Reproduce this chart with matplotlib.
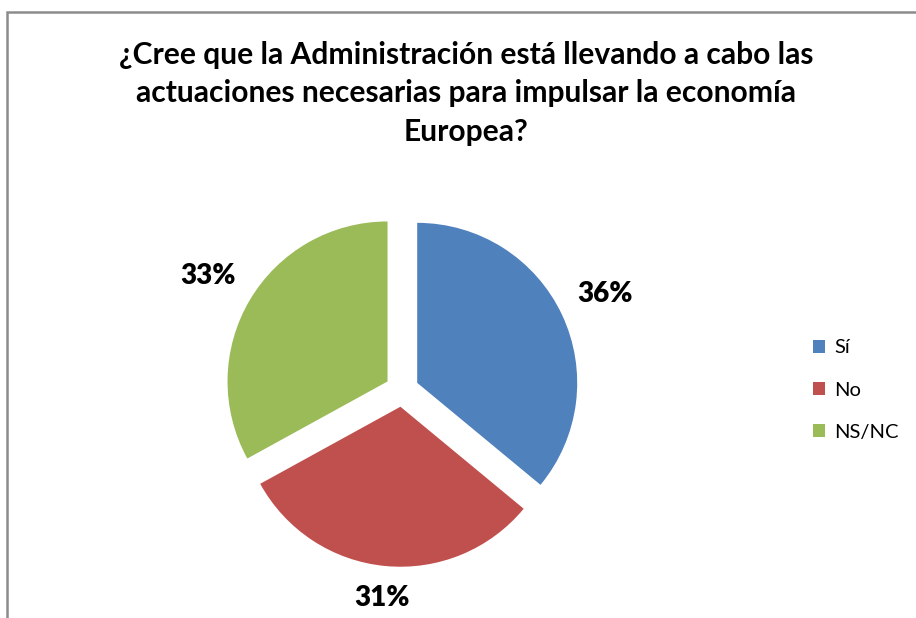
import numpy as np
import matplotlib.pyplot as plt
from matplotlib.patches import Rectangle

labels = ['Sí', 'No', 'NS/NC']
values = [36, 31, 33]
colors = ['#4F81BD', '#C0504D', '#9BBB59']
label_dist = [1.3, 1.2, 1.3]
title = ('¿Cree que la Administración está llevando a cabo las\n'
         'actuaciones necesarias para impulsar la economía\n'
         'Europea?')

plt.rcParams['font.family'] = ['Lato', 'DejaVu Sans']

W, H = 916, 618
fig = plt.figure(figsize=(W / 100, H / 100), dpi=100)

# chart frame (runs off the right and bottom edges)
fig.patches.append(Rectangle((7 / W, -0.05), 1.0, 1 - 12 / H + 0.05,
                             transform=fig.transFigure, fill=False,
                             edgecolor='#8c8c8c', linewidth=1.8))

# pie axes: 160 px per data unit, centre at (402, 390) px
cx, cy, r = 402, 390, 160
a = 1.5
explode = 0.105
ax = fig.add_axes([(cx - a * r) / W, (H - cy - a * r) / H, 2 * a * r / W, 2 * a * r / H])
wedges, texts, autotexts = ax.pie(values, colors=colors, startangle=90, counterclock=False,
                                  explode=[explode] * 3, autopct='%d%%', pctdistance=1.28,
                                  textprops=dict(fontsize=20, fontweight='heavy', color='black'),
                                  wedgeprops=dict(linewidth=0))
# put each percentage along its wedge's bisector
for w, t, d in zip(wedges, autotexts, label_dist):
    ang = np.deg2rad((w.theta1 + w.theta2) / 2)
    t.set_position(((explode + d) * np.cos(ang), (explode + d) * np.sin(ang)))
ax.set_xlim(-a, a)
ax.set_ylim(-a, a)
ax.set_aspect('auto')
ax.axis('off')

fig.text(466 / W, 1 - 41 / H, title, ha='center', va='top', fontsize=21.6,
         fontweight='bold', linespacing=1.45)

fig.legend(wedges, labels, loc='center left', bbox_to_anchor=(795 / W, 1 - 390 / H),
           frameon=False, fontsize=14.5, handlelength=0.6, handleheight=0.6,
           handletextpad=0.45, labelspacing=1.25)

fig.savefig('out.png', dpi=100)
